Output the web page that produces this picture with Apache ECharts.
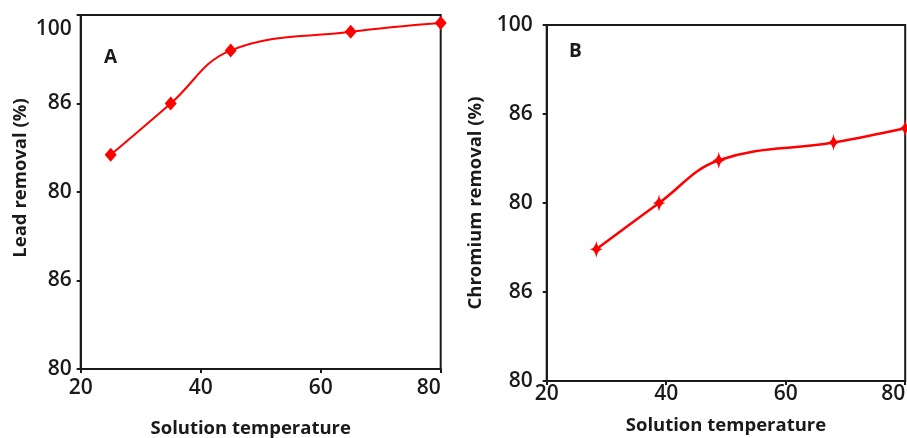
<!DOCTYPE html>
<html><head><meta charset="utf-8">
<script src="https://cdn.jsdelivr.net/npm/echarts@6/dist/echarts.min.js"></script>
<style>html,body{margin:0;padding:0;background:#fff}#c{width:907px;height:438px}</style>
</head><body><div id="c"></div>
<script>
// Panel A: Lead removal vs solution temperature
const tempA = [25, 35, 45, 65, 80];
const leadRemoval = [92.1, 95.0, 98.0, 99.05, 99.55];
// Panel B: Chromium removal vs solution temperature
const tempB = [28.3, 38.8, 48.8, 68.0, 80];
const chromiumRemoval = [87.4, 90.0, 92.4, 93.4, 94.2];
// Tick labels as printed on the y axes (at 80, 85, 90, 95, 100)
const yTickLabels = ['80', '86', '80', '86', '100'];

const chart = echarts.init(document.getElementById('c'), null, {renderer: 'canvas'});
const ink = '#1a1a1a';
const red = '#ff0000';
const tickFont = {fontFamily: 'Open Sans', fontWeight: 600, fontSize: 21, color: ink};
const titleFont = {fontFamily: 'Open Sans', fontWeight: 700, fontSize: 18.5, color: ink};
const starPath = 'path://M0,-10 Q1,-1 6,0 Q1,1 0,10 Q-1,1 -6,0 Q-1,-1 0,-10 Z';

function xAxis(gridIndex, margin, gap, pad) {
  return {
    type: 'value', gridIndex, min: 20, max: 80, interval: 20,
    name: 'Solution temperature', nameLocation: 'middle', nameGap: gap,
    nameTextStyle: Object.assign({}, titleFont, {padding: pad}),
    axisLine: {show: true, lineStyle: {color: ink, width: 2}},
    axisTick: {show: true, inside: false, length: 4, lineStyle: {color: ink, width: 2}},
    axisLabel: Object.assign({margin: margin, alignMaxLabel: 'right'}, tickFont),
    splitLine: {show: false}
  };
}
function yAxis(gridIndex, name, margin, gap, pad, shiftTop) {
  return {
    type: 'value', gridIndex, min: 80, max: 100, interval: 5,
    name: name, nameLocation: 'middle', nameGap: gap,
    nameTextStyle: Object.assign({}, titleFont, {padding: pad}),
    axisLine: {show: true, lineStyle: {color: ink, width: 2}},
    axisTick: {show: true, inside: false, length: 4, lineStyle: {color: ink, width: 2}},
    axisLabel: Object.assign({
      margin: margin,
      formatter: v => {
        const lab = yTickLabels[Math.round((v - 80) / 5)];
        return (shiftTop && v === 100) ? '{d|' + lab + '}' : lab;
      },
      rich: {d: Object.assign({}, tickFont, {padding: [28, 0, 0, 0]})}
    }, tickFont),
    splitLine: {show: false}
  };
}

chart.setOption({
  animation: false,
  grid: [
    {left: 80.7, top: 15, width: 360, height: 354, show: true, borderColor: ink, borderWidth: 2,
     containLabel: false, outerBoundsMode: 'none'},
    {left: 546.7, top: 25, width: 358.5, height: 356, show: true, borderColor: ink, borderWidth: 2,
     containLabel: false, outerBoundsMode: 'none'}
  ],
  xAxis: [xAxis(0, 9, 50, [0, 20, 0, 0]), xAxis(1, 3, 35, 0)],
  yAxis: [yAxis(0, 'Lead removal (%)', 9, 50, [0, 0, 0, 28], true),
          yAxis(1, 'Chromium removal (%)', 14, 61, 0, false)],
  graphic: [
    {type: 'text', left: 104, top: 48, style: {text: 'A', font: '700 19px "Open Sans"', fill: ink}},
    {type: 'text', left: 569, top: 42, style: {text: 'B', font: '700 19px "Open Sans"', fill: ink}}
  ],
  series: [
    {
      type: 'line', xAxisIndex: 0, yAxisIndex: 0, smooth: 0.4,
      data: tempA.map((x, i) => [x, leadRemoval[i]]),
      symbol: 'diamond', symbolSize: [12, 14],
      lineStyle: {color: red, width: 2}, itemStyle: {color: red}
    },
    {
      type: 'line', xAxisIndex: 1, yAxisIndex: 1, smooth: 0.4,
      data: tempB.map((x, i) => [x, chromiumRemoval[i]]),
      symbol: starPath, symbolSize: [13, 17],
      lineStyle: {color: red, width: 2.5}, itemStyle: {color: red}
    }
  ]
});
</script>
</body></html>
